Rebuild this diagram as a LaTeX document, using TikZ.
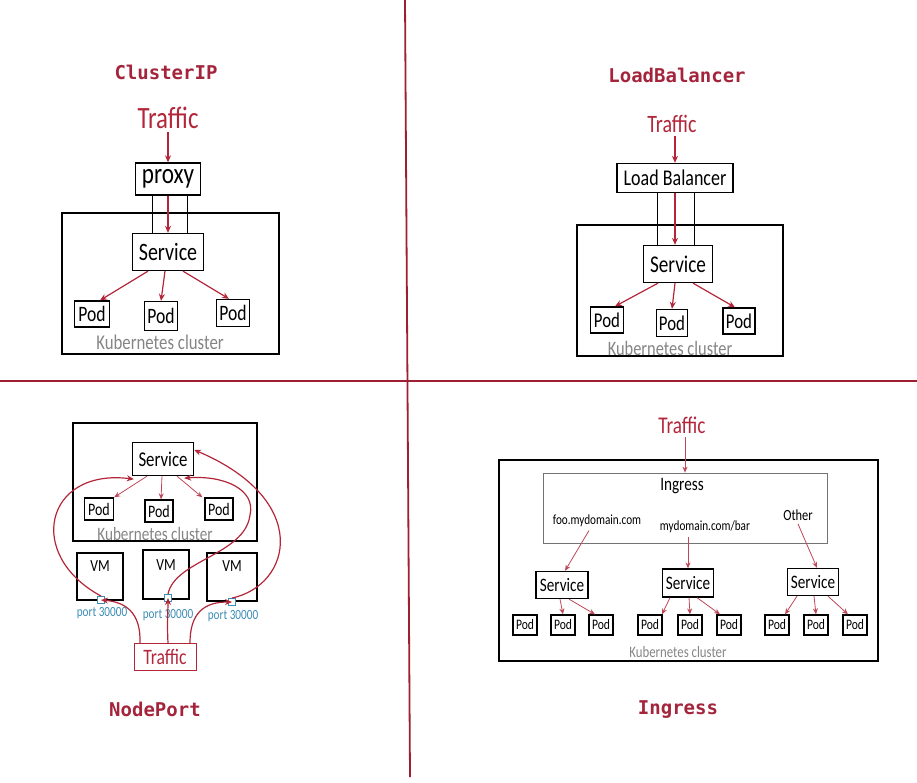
\documentclass[tikz,border=0pt]{standalone}
\usepackage{fontspec}
\setmainfont{Carlito}[FakeStretch=0.8]
\newfontfamily\titlefont{DejaVu Sans Mono}
\usepackage{xcolor}
\usepackage{tikz}
\usetikzlibrary{arrows.meta, positioning}

\definecolor{kred}{HTML}{B3263A}
\definecolor{ktitle}{HTML}{A3243B}
\definecolor{kline}{HTML}{9E1E32}
\definecolor{kblue}{HTML}{3D8DB5}
\definecolor{kgray}{HTML}{858585}
\newcommand{\hsz}[1]{\fontsize{#1}{#1}\selectfont}

\begin{document}
\begin{tikzpicture}[x=1pt,y=-1pt,
		box/.style={draw, line width=1.3pt, inner sep=0pt},
		ttl/.style={text=ktitle, font=\titlefont\bfseries\hsz{19}},
		hot/.style={text=kred},
		note/.style={text=kgray},
		arr/.style={draw=kred, line width=1.2pt, -{Stealth[length=7pt,width=6pt]}},
		arrthin/.style={draw=kred!85, line width=0.8pt, -{Stealth[length=6pt,width=5pt]}},
		link/.style={draw, line width=1pt},
		port/.style={draw=kblue, fill=white, line width=0.9pt, minimum size=7, inner sep=0pt}
	]
		\useasboundingbox (0,0) rectangle (917,783);
		
		% quarters
		\draw [kline, line width=1.8pt] (405,0) -- (410,777);
		\draw [kline, line width=1.3pt] (0,381) -- (917,381);
		
		% ClusterIP
		\node [ttl] (t1) at (166,72) {ClusterIP};
		\node [hot, font=\hsz{31}] (tr1) at (168,118) {Traffic};
		\node [box, minimum width=65, minimum height=32, font=\hsz{29}] (px) at (168,179) {proxy};
		\node [box, minimum width=217, minimum height=141] (k1) at (170.5,283.5) {};
		\node [box, minimum width=71, minimum height=37, fill=white, font=\hsz{25}] (sv1) at (168,252) {Service};
		\node [box, minimum width=35, minimum height=26, font=\hsz{22}] (p11) at (92,314) {Pod};
		\node [box, minimum width=33, minimum height=29, font=\hsz{22}] (p12) at (161,316) {Pod};
		\node [box, minimum width=33, minimum height=27, font=\hsz{22}] (p13) at (233,313) {Pod};
		\node [note, font=\hsz{21}] (c1) at (160,342) {Kubernetes cluster};
		\draw [link] ([xshift=-16]px.south) -- ([xshift=-16]px.south |- sv1.north);
		\draw [link] ([xshift=19]px.south) -- ([xshift=19]px.south |- sv1.north);
		\draw [arr] (tr1.south) -- (px.north);
		\draw [arr] (px.south) -- (sv1.north);
		\draw [arr] ([xshift=-20]sv1.south) -- ([xshift=8]p11.north);
		\draw [arr] ([xshift=-3]sv1.south) -- (p12.north);
		\draw [arr] ([xshift=15]sv1.south) -- ([xshift=-4]p13.north);
		
		% LoadBalancer
		\node [ttl] (t2) at (677,75) {LoadBalancer};
		\node [hot, font=\hsz{25}] (tr2) at (672,124) {Traffic};
		\node [box, minimum width=116, minimum height=29, font=\hsz{22.5}] (lb) at (675,178) {Load Balancer};
		\node [box, minimum width=206, minimum height=131] (k2) at (680,290.5) {};
		\node [box, minimum width=69, minimum height=37, fill=white, font=\hsz{24}] (sv2) at (678,264) {Service};
		\node [box, minimum width=33, minimum height=26, font=\hsz{21}] (p21) at (607,320) {Pod};
		\node [box, minimum width=31, minimum height=27, font=\hsz{21}] (p22) at (672,323) {Pod};
		\node [box, minimum width=32, minimum height=26, font=\hsz{21}] (p23) at (739,321) {Pod};
		\node [note, font=\hsz{20.5}] (c2) at (670,348) {Kubernetes cluster};
		\draw [link] ([xshift=-18]lb.south) -- ([xshift=-18]lb.south |- sv2.north);
		\draw [link] ([xshift=19]lb.south) -- ([xshift=19]lb.south |- sv2.north);
		\draw [arr] (tr2.south -| lb.north) -- (lb.north);
		\draw [arr] (lb.south) -- (lb.south |- sv2.north);
		\draw [arr] ([xshift=-20]sv2.south) -- ([xshift=8]p21.north);
		\draw [arr] ([xshift=-3]sv2.south) -- (p22.north);
		\draw [arr] ([xshift=15]sv2.south) -- ([xshift=-4]p23.north);
		
		% NodePort
		\node [box, minimum width=184, minimum height=118] (k3) at (165,482) {};
		\node [box, minimum width=61, minimum height=33, font=\hsz{21}] (sv3) at (163,459) {Service};
		\node [box, minimum width=29, minimum height=22, font=\hsz{17.5}] (p31) at (99,509) {Pod};
		\node [box, minimum width=28, minimum height=22, font=\hsz{17.5}] (p32) at (159,511) {Pod};
		\node [box, minimum width=28, minimum height=22, font=\hsz{17.5}] (p33) at (219,509) {Pod};
		\node [note, font=\hsz{19}] (c3) at (155,534) {Kubernetes cluster};
		\draw [arrthin] ([xshift=-16]sv3.south) -- (p31.north east);
		\draw [arrthin] ([xshift=-1]sv3.south) -- ([xshift=2]p32.north);
		\draw [arrthin] ([xshift=14]sv3.south) -- ([xshift=-2]p33.north west);
		
		\node [box, minimum width=46, minimum height=47,
			label={[anchor=north, yshift=-5, font=\hsz{17}]north:VM}] (vm1) at (100,576.5) {};
		\node [box, minimum width=46, minimum height=49,
			label={[anchor=north, yshift=-7, font=\hsz{17}]north:VM}] (vm2) at (166,574.5) {};
		\node [box, minimum width=50, minimum height=48,
			label={[anchor=north, yshift=-5, font=\hsz{17}]north:VM}] (vm3) at (232,577) {};
		\node [port] (pt1) at (101,600) {};
		\node [port] (pt2) at (168,598) {};
		\node [port] (pt3) at (232,602) {};
		\node [text=kblue, font=\hsz{14}] (l1) at (102,613) {port 30000};
		\node [text=kblue, font=\hsz{14}] (l2) at (168,615) {port 30000};
		\node [text=kblue, font=\hsz{14}] (l3) at (233,616) {port 30000};
		\node [draw=kred, line width=1pt, minimum width=62, minimum height=27, inner sep=0pt,
			hot, font=\hsz{22}] (tb) at (165,657) {Traffic};
		
		\draw [arr] (pt1.north) .. controls (25,555) and (45,468) .. ([xshift=2,yshift=-3]sv3.south west);
		\draw [arr] (pt2.north) .. controls (175,560) and (245,555) .. (250,515)
			.. controls (256,490) and (225,475) .. ([xshift=-10,yshift=-2]sv3.south east);
		\draw [arr] (pt3.north) .. controls (292,585) and (312,500) .. ([yshift=-8]sv3.north east);
		\draw [arr] ([xshift=-25]tb.north) .. controls (141,612) and (125,602) .. (pt1.center);
		\draw [arr] ([xshift=3]tb.north) .. controls (167,625) and (168,610) .. (pt2.center);
		\draw [arr] ([xshift=25]tb.north) .. controls (190,612) and (205,602) .. (pt3.center);
		\node [ttl] (t3) at (155,709) {NodePort};
		
		% Ingress
		\node [hot, font=\hsz{24}] (tr4) at (682,425) {Traffic};
		\node [box, minimum width=379, minimum height=201] (k4) at (688.5,560.5) {};
		\node [draw=black!55, line width=0.7pt, minimum width=284, minimum height=70] (ing) at (685,508) {};
		\node [font=\hsz{19}] (ingt) at (682,486) {Ingress};
		\node [font=\hsz{14}] (foo) at (597,521) {foo.mydomain.com};
		\node [font=\hsz{14}] (mdb) at (705,527) {mydomain.com/bar};
		\node [font=\hsz{15.5}] (oth) at (798,515) {Other};
		\node [box, minimum width=52, minimum height=27, font=\hsz{19}] (s41) at (562,585) {Service};
		\node [box, minimum width=51, minimum height=28, font=\hsz{19}] (s42) at (688,583) {Service};
		\node [box, minimum width=51, minimum height=27, font=\hsz{19}] (s43) at (813,582) {Service};
		\foreach \px/\nm in {525/a, 563/b, 601/c, 650/d, 690/e, 729/f, 777/g, 816/h, 855/i}
			\node [box, minimum width=24, minimum height=20, font=\hsz{14.5}] (q\nm) at (\px,625) {Pod};
		\node [note, font=\hsz{16}] (c4) at (678,652) {Kubernetes cluster};
		\draw [arrthin] (tr4.south -| ing.north) -- (ing.north);
		\draw [arrthin] ([xshift=-8]foo.south) -- ([xshift=3]s41.north);
		\draw [arrthin] (s42.north |- mdb.south) -- (s42.north);
		\draw [arrthin] (oth.south) -- ([xshift=4]s43.north);
		\draw [arrthin] ([xshift=-2]s41.south) -- (qb.north);
		\draw [arrthin] ([xshift=7]s41.south) -- ([xshift=-6]qc.north);
		\draw [arrthin] ([xshift=-18]s42.south) -- ([xshift=12]qd.north);
		\draw [arrthin] ([xshift=1]s42.south) -- (qe.north);
		\draw [arrthin] ([xshift=9]s42.south) -- ([xshift=-9]qf.north);
		\draw [arrthin] ([xshift=-16]s43.south) -- ([xshift=8]qg.north);
		\draw [arrthin] ([xshift=1]s43.south) -- (qh.north);
		\draw [arrthin] ([xshift=15]s43.south) -- ([xshift=-7]qi.north);
		\node [ttl] (t4) at (678,710) {Ingress};
\end{tikzpicture}
\end{document}
